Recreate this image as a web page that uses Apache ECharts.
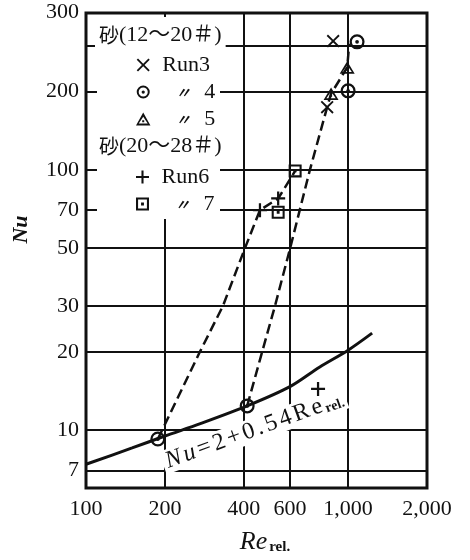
<!DOCTYPE html>
<html>
<head>
<meta charset="utf-8">
<script src="https://cdn.jsdelivr.net/npm/echarts@6/dist/echarts.min.js"></script>
<style>
  html, body { margin: 0; padding: 0; background: #fff; }
  #chart { width: 470px; height: 560px; }
</style>
</head>
<body>
<div id="chart"></div>
<script>
// Axis ticks and labels
const xTicks = [100, 200, 400, 600, 1000, 2000];
const xTickLabels = ['100', '200', '400', '600', '1,000', '2,000'];
const xGrid = [200, 400, 600, 1000];
const yTicks = [7, 10, 20, 30, 50, 70, 100, 200, 300];
const yGrid = [7, 10, 20, 30, 50, 70, 100, 200, 300];

// Measured runs  [Re_rel, Nu]
const run3 = [[877, 312], [832, 174]];
const run4 = [[1082, 310], [1000, 201], [188, 9.25], [412, 12.4]];
const run5 = [[992, 247], [861, 196]];
const run6 = [[461, 70], [541, 77.6], [768, 14.4]];
const run7 = [[628, 99], [541, 68.7]];

// Correlation curve Nu = 2 + 0.54 Re_rel
const nuCurve = [[100, 7.4], [150, 8.55], [200, 9.5], [273, 10.6], [412, 12.4],
                 [600, 14.7], [780, 17.5], [1000, 20.3], [1235, 23.6]];
// Dashed trend lines
const trendLeft = [[188, 9.25], [272, 20], [333, 30], [404, 50], [461, 70], [541, 77.6], [628, 99]];
const trendRight = [[412, 12.4], [470, 20], [526, 30], [601, 50], [715, 100], [832, 174],
                    [861, 196], [992, 247], [1010, 305]];

const runNames = ['Run3', 'Run4', 'Run5', 'Run6', 'Run7'];
const runLegendText = {
  Run3: '{r|Run3}', Run4: '{d|〃}{r|4}', Run5: '{d|〃}{r|5}',
  Run6: '{r|Run6}', Run7: '{d|〃}{r|7}'
};
const groupTitles = ['(12～20＃)', '(20～28＃)'];

const INK = '#111';
const SERIF = '"Liberation Serif", "Times New Roman", serif';
const CJK = '"Noto Sans CJK JP", sans-serif';

// marker shapes
const symCross = 'path://M1,0L5,4L9,0L10,1L6,5L10,9L9,10L5,6L1,10L0,9L4,5L0,1Z';
const symPlus = 'path://M4.2,0L5.8,0L5.8,4.2L10,4.2L10,5.8L5.8,5.8L5.8,10L4.2,10L4.2,5.8L0,5.8L0,4.2L4.2,4.2Z';
const symDotCircle = 'path://M10,0A10,10,0,1,1,10,20A10,10,0,1,1,10,0ZM10,3A7,7,0,1,0,10,17A7,7,0,1,0,10,3ZM10,7.5A2.5,2.5,0,1,1,10,12.5A2.5,2.5,0,1,1,10,7.5Z';
const symDotTri = 'path://M5,0L10,9L0,9ZM5,2.9L1.9,7.7L8.1,7.7ZM4.3,5.3L5.7,5.3L5.7,6.7L4.3,6.7Z';
const symDotSquare = 'path://M0,0L10,0L10,10L0,10ZM1.6,1.6L1.6,8.4L8.4,8.4L8.4,1.6ZM3.9,3.9L6.1,3.9L6.1,6.1L3.9,6.1Z';

const runSymbols = { Run3: symCross, Run4: symDotCircle, Run5: symDotTri, Run6: symPlus, Run7: symDotSquare };
const runSizes = { Run3: 13, Run4: 15, Run5: [15, 14], Run6: 14, Run7: 13 };
const runData = { Run3: run3, Run4: run4, Run5: run5, Run6: run6, Run7: run7 };

const legendRich = {
  r: { fontFamily: SERIF, fontSize: 22, color: INK, lineHeight: 22 },
  d: { fontFamily: CJK, fontSize: 15, color: INK, width: 42, align: 'center', fontStyle: 'italic', fontWeight: 'bold', lineHeight: 22 }
};

function legendBlock(names, top) {
  return {
    orient: 'vertical', left: 131, top: top, z: 5,
    itemWidth: 28, itemHeight: 13, itemGap: 5,
    selectedMode: false, symbolKeepAspect: true,
    data: names.map(n => ({ name: n, icon: runSymbols[n] })),
    formatter: n => runLegendText[n],
    textStyle: { rich: legendRich, color: INK }
  };
}

function groupTitle(text, y) {
  return {
    type: 'text', z: 3, silent: true, x: 95, y: y,
    style: {
      text: '{c|砂}{s|' + text + '}', verticalAlign: 'middle',
      backgroundColor: '#fff', padding: [3, 4],
      rich: {
        c: { fontFamily: CJK, fontSize: 20, fill: INK, lineHeight: 24 },
        s: { fontFamily: SERIF + ', ' + CJK, fontSize: 22, fill: INK, lineHeight: 24 }
      }
    }
  };
}

// formula label, one token per glyph so the glyphs can be spread out
const formulaTokens = [['i', 'N'], ['i', 'u'], ['m', '='], ['m', '2'], ['m', '+'], ['m', '0'], ['m', '.'],
                       ['m', '5'], ['m', '4'], ['m', 'R'], ['m', 'e'], ['s', 'rel.']];
const formulaText = formulaTokens.map(t => '{' + t[0] + '|' + t[1] + '}').join('');

const chart = echarts.init(document.getElementById('chart'), null, { renderer: 'canvas' });

const series = [
  {
    name: 'grid', type: 'line', data: [], z: 1, silent: true,
    markLine: {
      z: 1, silent: true, symbol: ['none', 'none'], label: { show: false },
      lineStyle: { color: INK, width: 2, type: 'solid' },
      emphasis: { disabled: true },
      data: xGrid.map(v => ({ xAxis: v })).concat(yGrid.map(v => ({ yAxis: v })))
    }
  },
  {
    name: 'curve', type: 'line', data: nuCurve, smooth: 0.3, showSymbol: false, z: 6, silent: true,
    lineStyle: { color: INK, width: 3 }
  },
  {
    name: 'trendLeft', type: 'line', data: trendLeft, showSymbol: false, z: 6, silent: true,
    lineStyle: { color: INK, width: 2.5, type: [10, 5] }
  },
  {
    name: 'trendRight', type: 'line', data: trendRight, showSymbol: false, z: 6, silent: true,
    lineStyle: { color: INK, width: 2.5, type: [10, 5] }
  }
].concat(runNames.map(n => ({
  name: n, type: 'scatter', data: runData[n], z: 7,
  symbol: runSymbols[n], symbolSize: runSizes[n], symbolKeepAspect: true,
  itemStyle: { color: INK, opacity: 1 }
})));

chart.setOption({
  animation: false,
  backgroundColor: '#fff',
  grid: { left: 86, right: 43, top: 13, bottom: 67, show: true, borderColor: INK, borderWidth: 3, backgroundColor: 'transparent' },
  xAxis: {
    type: 'log', logBase: 10, min: 100, max: 2000,
    axisLine: { show: false }, axisTick: { show: false }, splitLine: { show: false },
    axisLabel: {
      customValues: xTicks,
      formatter: v => xTickLabels[xTicks.indexOf(v)],
      fontFamily: SERIF, fontSize: 22, color: INK, margin: 10
    },
    name: '{a|Re}{b|rel.}', nameLocation: 'middle', nameGap: 41,
    nameTextStyle: {
      padding: [0, 0, 0, 17],
      rich: {
        a: { fontFamily: SERIF, fontStyle: 'italic', fontSize: 26, color: INK, lineHeight: 26, verticalAlign: 'bottom' },
        b: { fontFamily: SERIF, fontWeight: 'bold', fontSize: 15, color: INK, lineHeight: 14, verticalAlign: 'bottom', padding: [0, 0, 0, 2] }
      }
    }
  },
  yAxis: {
    type: 'log', logBase: 10, min: 6, max: 400,
    axisLine: { show: false }, axisTick: { show: false }, splitLine: { show: false },
    axisLabel: {
      customValues: yTicks,
      formatter: v => (v === 300 ? '{t|300}' : '{n|' + v + '}'),
      margin: 7,
      rich: {
        n: { fontFamily: SERIF, fontSize: 22, color: INK },
        t: { fontFamily: SERIF, fontSize: 22, color: INK, padding: [0, 0, 66, 0] }
      }
    },
    name: 'Nu', nameLocation: 'middle', nameGap: 54,
    nameTextStyle: { fontFamily: SERIF, fontStyle: 'italic', fontWeight: 'bold', fontSize: 22, color: INK, padding: [0, 0, 0, 42] }
  },
  legend: [
    legendBlock(['Run3', 'Run4', 'Run5'], 49),
    legendBlock(['Run6', 'Run7'], 161)
  ],
  graphic: [
    { type: 'rect', z: 3, silent: true, shape: { x: 97, y: 17, width: 123, height: 202 }, style: { fill: '#fff' } },
    groupTitle(groupTitles[0], 35),
    groupTitle(groupTitles[1], 146),
    { type: 'text', z: 3, silent: true, x: 254, y: 430, rotation: 20 * Math.PI / 180,
      style: {
        text: formulaText,
        align: 'center', verticalAlign: 'middle',
        backgroundColor: '#fff', padding: [0, 2],
        rich: {
          i: { fontFamily: SERIF, fontStyle: 'italic', fontSize: 24, fill: INK, lineHeight: 24, verticalAlign: 'bottom', padding: [0, 1.5] },
          m: { fontFamily: SERIF, fontSize: 24, fill: INK, lineHeight: 24, verticalAlign: 'bottom', padding: [0, 1.5] },
          s: { fontFamily: SERIF, fontWeight: 'bold', fontSize: 14, fill: INK, lineHeight: 13, verticalAlign: 'bottom', padding: [0, 1] }
        }
      } }
  ],
  series: series
});
</script>
</body>
</html>
